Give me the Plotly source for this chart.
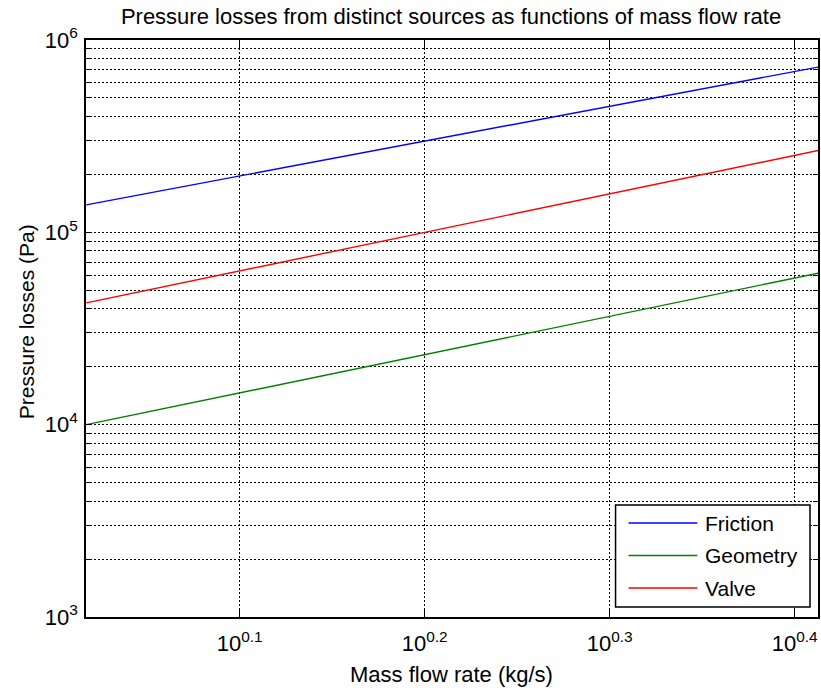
import numpy as np
import plotly.graph_objects as go

# ---- data ----
mass_flow = [1.04, 1.2, 1.4, 1.6, 1.8, 2.0, 2.2, 2.4, 2.59]
friction = [1.39e5, 1.80e5, 2.38e5, 3.03e5, 3.75e5, 4.54e5, 5.40e5, 6.31e5, 7.25e5]
geometry = [1.00e4, 1.33e4, 1.81e4, 2.37e4, 3.00e4, 3.70e4, 4.48e4, 5.33e4, 6.15e4]
valve = [4.30e4, 5.72e4, 7.79e4, 1.018e5, 1.288e5, 1.590e5, 1.924e5, 2.290e5, 2.67e5]
series_names = ["Friction", "Geometry", "Valve"]
series_colors = ["#0000ff", "#008000", "#ff0000"]

x_tick_exps = [0.1, 0.2, 0.3, 0.4]
y_decades = [3, 4, 5, 6]

FONT = "Liberation Sans, Arial, sans-serif"

fig = go.Figure()
for name, vals, col in zip(series_names, [friction, geometry, valve], series_colors):
    fig.add_trace(go.Scatter(x=mass_flow, y=vals, mode="lines", name=name,
                             line=dict(color=col, width=1.4), showlegend=False))

# axis ticks
xtickvals = [10 ** e for e in x_tick_exps]
xticktext = [f"10<sup>{e}</sup>" for e in x_tick_exps]
ytickvals, yticktext = [], []
for d in y_decades:
    for m in range(1, 10):
        if d == y_decades[-1] and m > 1:
            break
        ytickvals.append(m * 10 ** d)
        yticktext.append(f"10<sup>{d}</sup>" if m == 1 else "")

grid = dict(showgrid=True, gridcolor="black", gridwidth=1, griddash="2px,2px",
            showline=True, linecolor="black", linewidth=1.5, mirror="allticks",
            ticks="inside", tickcolor="black", zeroline=False)

fig.update_xaxes(type="log", range=[0.0169, 0.4126], tickmode="array",
                 tickvals=xtickvals, ticktext=xticktext, ticklen=8,
                 ticklabelstandoff=6,
                 tickfont=dict(family=FONT, size=22, color="black"), **grid)
fig.update_yaxes(type="log", range=[3, 6], tickmode="array",
                 tickvals=ytickvals, ticktext=yticktext, ticklen=5,
                 ticklabelstandoff=2,
                 tickfont=dict(family=FONT, size=22, color="black"), **grid)

L, R, T, B = 86, 1, 40, 73
W, H = 821, 690
pw, ph = W - L - R, H - T - B

def px(x):
    return (x - L) / pw

def py(y):
    return (H - B - y) / ph

# custom legend (MATLAB style)
shapes = [dict(type="rect", xref="paper", yref="paper", x0=px(617), x1=px(812),
               y0=py(607), y1=py(505), fillcolor="white",
               line=dict(color="black", width=1.5), layer="above")]
annotations = []
for i, (name, col) in enumerate(zip(series_names, series_colors)):
    yy = 523 + i * 32.5
    shapes.append(dict(type="line", xref="paper", yref="paper", x0=px(630), x1=px(699),
                       y0=py(yy), y1=py(yy), line=dict(color=col, width=1.4), layer="above"))
    annotations.append(dict(text=name, xref="paper", yref="paper", x=px(705), y=py(yy),
                            xanchor="left", yanchor="middle", showarrow=False,
                            font=dict(family=FONT, size=21, color="black")))

annotations.append(dict(text="Mass flow rate (kg/s)", xref="paper", yref="paper",
                        x=px(452), y=py(674), xanchor="center", yanchor="middle",
                        showarrow=False, font=dict(family=FONT, size=22, color="black")))
annotations.append(dict(text="Pressure losses (Pa)", xref="paper", yref="paper",
                        x=px(26), y=py(322), xanchor="center", yanchor="middle",
                        textangle=-90, showarrow=False,
                        font=dict(family=FONT, size=21, color="black")))

fig.update_layout(
    width=W, height=H,
    margin=dict(l=L, r=R, t=T, b=B),
    paper_bgcolor="white", plot_bgcolor="white",
    title=dict(text="Pressure losses from distinct sources as functions of mass flow rate",
               x=451 / W, xanchor="center", y=1 - 16 / H, yanchor="middle",
               font=dict(family=FONT, size=22, color="black")),
    shapes=shapes, annotations=annotations, showlegend=False,
)

fig.write_html("out.html")
